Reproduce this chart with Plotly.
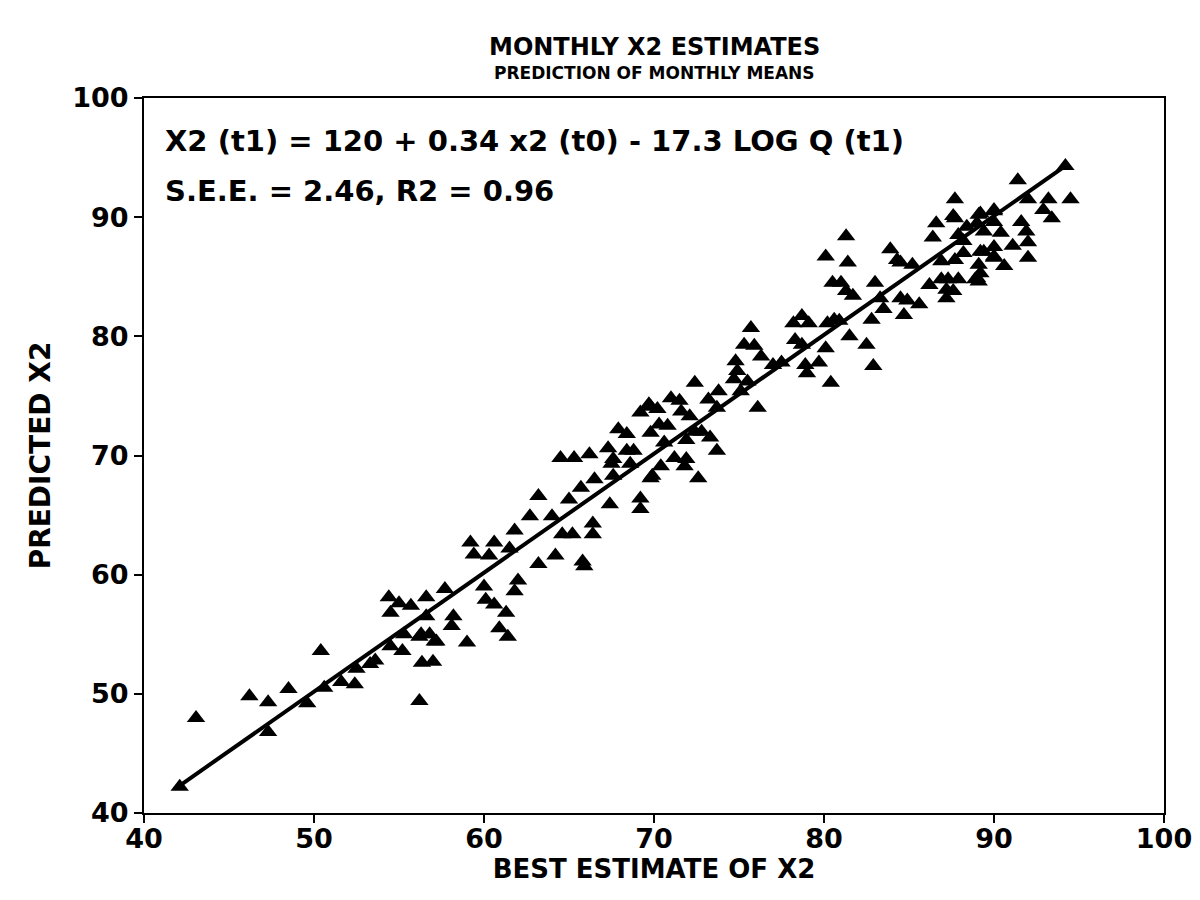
import plotly.graph_objects as go

best_estimate = [
    42.1, 43.06, 46.2, 47.3, 48.5, 49.6, 47.3, 50.4, 50.6, 51.6, 52.4, 52.5, 53.3, 53.6,
    54.5, 55.2, 55.3, 54.4, 54.5, 55.0, 55.7, 56.6, 56.6, 56.35, 57.0, 56.2, 56.3, 57.1,
    59.2, 60.6, 61.8, 59.4, 60.3, 61.5, 60.0, 61.8, 62.0, 60.1, 60.6, 61.3, 60.9, 61.4,
    59.0, 58.2, 58.1, 57.7, 56.2, 57.2, 56.8,
    63.2, 62.7, 64.0, 65.0, 64.6, 65.2, 63.2, 64.2, 65.8, 65.9, 66.4, 66.4, 67.4, 65.7,
    66.5, 64.5, 65.3, 66.2, 69.2, 69.2, 69.8, 67.3, 67.9, 68.4, 69.2, 69.8, 70.3, 71.0,
    67.6, 68.4, 68.6, 67.6, 70.4, 71.2,
    75.7, 75.3, 75.9, 76.3, 74.8, 74.9, 74.7, 75.5, 77.0, 77.5, 73.8, 75.1, 72.4, 73.2,
    73.7, 71.5, 69.7, 70.2, 71.6, 72.1, 70.8, 69.8, 72.4, 71.9, 72.8, 70.6, 71.9, 71.8,
    72.6, 73.3, 73.7, 76.1, 78.2, 78.7, 79.1, 78.3, 78.7, 80.2, 80.6, 80.1, 78.9, 79.7,
    79.0, 80.4, 68.8, 67.5, 69.9,
    81.3, 80.1, 81.4, 80.5, 81.0, 81.3, 81.7, 83.0, 83.9, 84.3, 84.5, 85.2, 83.3, 84.5,
    84.9, 85.6, 83.5, 84.7, 82.8, 80.9, 81.5, 82.5, 82.9,
    86.6, 87.6, 86.4, 87.9, 88.2, 89.1, 90.0, 86.9, 87.7, 88.2, 89.2, 90.0, 86.2, 86.9,
    87.3, 87.9, 87.2, 87.2, 88.9, 89.2,
    94.2, 91.4, 92.0, 93.2, 94.5, 92.9, 93.4, 87.7, 89.2, 90.0, 87.7, 88.4, 89.0, 90.0,
    91.6, 91.9, 89.4, 90.4, 91.1, 92.0, 90.0, 89.4, 92.0, 90.6, 90.0, 89.1, 89.0, 89.1,
    87.6,
]

predicted = [
    42.2, 47.97, 49.8, 49.3, 50.4, 49.2, 46.8, 53.6, 50.5, 51.0, 50.8, 52.1, 52.5, 52.8,
    54.0, 53.6, 55.0, 58.1, 56.8, 57.6, 57.4, 58.1, 56.5, 52.6, 52.7, 49.4, 55.0, 54.4,
    62.7, 62.7, 63.7, 61.7, 61.6, 62.2, 59.0, 58.6, 59.5, 57.9, 57.5, 56.8, 55.5, 54.8,
    54.3, 56.5, 55.7, 58.8, 54.8, 54.4, 55.0,
    66.6, 64.9, 64.9, 66.3, 63.4, 63.4, 60.9, 61.6, 61.1, 60.7, 64.3, 63.4, 65.9, 67.3,
    68.0, 69.8, 69.8, 70.1, 66.4, 65.5, 68.1, 70.6, 72.2, 71.8, 73.6, 74.1, 72.6, 74.8,
    69.7, 70.4, 69.3, 68.3, 69.1, 69.8,
    80.7, 79.3, 79.2, 78.3, 77.9, 77.1, 76.4, 76.2, 77.6, 77.8, 75.4, 75.4, 76.1, 74.7,
    74.0, 74.6, 74.3, 73.9, 73.7, 73.3, 72.5, 71.9, 72.0, 71.3, 72.0, 71.1, 69.7, 69.1,
    68.1, 71.5, 70.4, 74.0, 81.1, 81.7, 81.1, 79.7, 79.3, 81.1, 81.4, 79.0, 77.6, 77.8,
    76.9, 76.1, 70.4, 69.3, 68.3,
    88.4, 86.7, 86.2, 84.5, 84.5, 83.8, 83.4, 84.5, 87.3, 86.4, 86.2, 86.0, 83.2, 83.2,
    83.0, 82.7, 82.3, 81.8, 81.4, 81.3, 80.0, 79.3, 77.5,
    89.5, 90.1, 88.3, 88.5, 88.0, 90.2, 90.5, 86.3, 86.4, 87.0, 87.1, 86.7, 84.3, 84.8,
    84.8, 84.8, 83.9, 83.2, 84.8, 85.3,
    94.3, 93.1, 91.5, 91.5, 91.5, 90.6, 89.9, 91.5, 90.3, 90.6, 89.9, 89.2, 89.5, 89.6,
    89.6, 88.8, 88.8, 88.7, 87.6, 87.9, 87.5, 87.1, 86.6, 85.9, 86.6, 86.0, 84.9, 84.6,
    83.8,
]

fit_x = [42.0, 94.2]
fit_y = [42.2, 94.3]

x_ticks = [40, 50, 60, 70, 80, 90, 100]
y_ticks = [40, 50, 60, 70, 80, 90, 100]

FONT = "DejaVu Sans"

fig = go.Figure()
fig.add_trace(go.Scatter(
    x=fit_x, y=fit_y, mode="lines",
    line=dict(color="black", width=4), hoverinfo="skip", showlegend=False,
))
fig.add_trace(go.Scatter(
    x=best_estimate, y=predicted, mode="markers",
    marker=dict(symbol="triangle-up", size=16, color="black", line=dict(width=0)),
    showlegend=False,
))

axis_common = dict(
    showgrid=False, zeroline=False, showline=True, linecolor="black", linewidth=2,
    mirror=True, ticks="outside", ticklen=8, tickwidth=2, tickcolor="black",
    tickfont=dict(family=FONT, size=27, color="black", weight="bold"),
)

fig.update_layout(
    width=1200, height=900,
    paper_bgcolor="white", plot_bgcolor="white",
    margin=dict(l=136, r=44, t=90, b=95),
    font=dict(family=FONT, color="black"),
    xaxis=dict(range=[40, 100], tickvals=x_ticks, ticktext=[str(v) for v in x_ticks],
               ticklabelstandoff=-7,
               title=dict(text="BEST ESTIMATE OF X2", standoff=6,
                          font=dict(family=FONT, size=26, color="black", weight="bold")),
               **axis_common),
    yaxis=dict(range=[40, 100], tickvals=y_ticks, ticktext=[str(v) for v in y_ticks],
               title=dict(text="PREDICTED X2", standoff=13,
                          font=dict(family=FONT, size=28, color="black", weight="bold")),
               **axis_common),
    annotations=[
        dict(text="<b>MONTHLY X2 ESTIMATES</b>", xref="paper", yref="paper",
             x=0.5, y=1, yshift=51, showarrow=False, yanchor="middle",
             font=dict(family=FONT, size=24, color="black")),
        dict(text="<b>PREDICTION OF MONTHLY MEANS</b>", xref="paper", yref="paper",
             x=0.5, y=1, yshift=25, showarrow=False, yanchor="middle",
             font=dict(family=FONT, size=17, color="black")),
        dict(text="<b>X2 (t1) = 120 + 0.34 x2 (t0) - 17.3 LOG Q (t1)</b>",
             xref="paper", yref="paper", x=0.019, y=1, yshift=-43,
             xanchor="left", yanchor="middle", showarrow=False,
             font=dict(family=FONT, size=29, color="black")),
        dict(text="<b>S.E.E. = 2.46, R2 = 0.96</b>",
             xref="paper", yref="paper", x=0.019, y=1, yshift=-93,
             xanchor="left", yanchor="middle", showarrow=False,
             font=dict(family=FONT, size=29, color="black")),
    ],
)

fig.write_html("out.html")
